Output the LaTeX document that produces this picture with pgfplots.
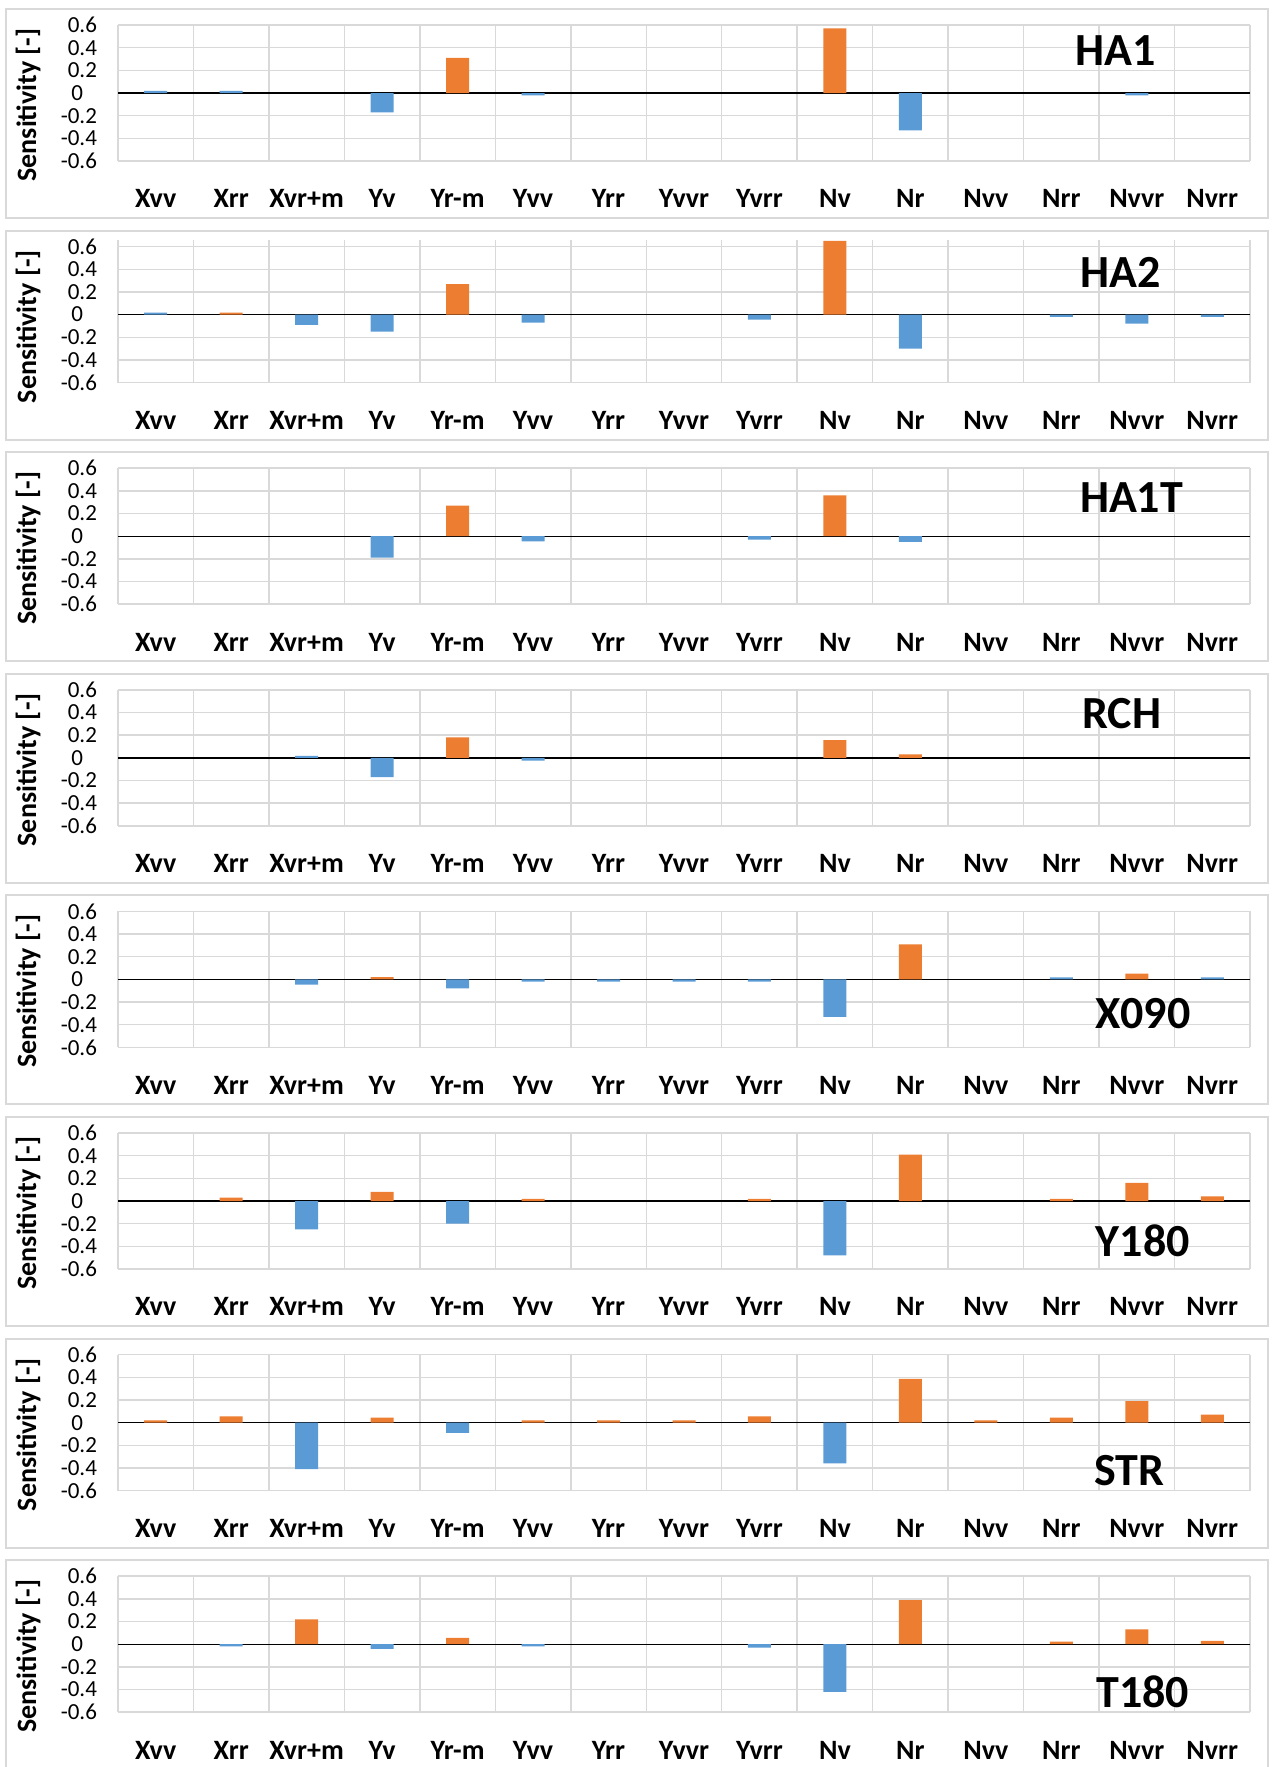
\documentclass[border=0pt]{standalone}
\usepackage{fontspec}
\setmainfont{Carlito}
\usepackage{pgfplots}
\usepackage{pgfplotstable}
\pgfplotsset{compat=1.18}

\definecolor{barorange}{HTML}{ED7D31}
\definecolor{barblue}{HTML}{5B9BD5}
\definecolor{gridgray}{HTML}{D9D9D9}

% one column pair per case: o = orange bars, b = blue bars
\pgfplotstableread{
i  HAoneo HAoneb HAtwoo HAtwob HATo HATb RCHo RCHb Xo    Xb     Yo   Yb    So    Sb    To    Tb
0  0      0.018  0      0.018  0    0    0    0     0     0      0    0     0.02  0     0     0
1  0      0.018  0.018  0      0    0    0    0     0     0      0.03 0     0.055 0     0     -0.018
2  0      0      0      -0.09  0    0    0    0.018 0     -0.045 0    -0.25 0     -0.41 0.22  0
3  0      -0.17  0      -0.15  0    -0.19 0   -0.17 0.02  0      0.08 0     0.045 0     0     -0.04
4  0.31   0      0.27   0      0.27 0    0.18 0     0     -0.08  0    -0.20 0     -0.09 0.055 0
5  0      -0.022 0      -0.07  0    -0.045 0  -0.025 0    -0.02  0.02 0     0.02  0     0     -0.018
6  0      0      0      0      0    0    0    0     0     -0.02  0    0     0.02  0     0     0
7  0      0      0      0      0    0    0    0     0     -0.02  0    0     0.02  0     0     0
8  0      0      0      -0.045 0    -0.03 0   0     0     -0.02  0.02 0     0.055 0     0     -0.03
9  0.57   0      0.65   0      0.36 0    0.155 0    0     -0.33  0    -0.48 0     -0.36 0     -0.42
10 0      -0.33  0      -0.30  0    -0.05 0.03 0    0.31  0      0.41 0     0.385 0     0.39  0
11 0      0      0      0      0    0    0    0     0     0      0    0     0.02  0     0     0
12 0      0      0      -0.02  0    0    0    0     0     0.018  0.02 0     0.044 0     0.022 0
13 0      -0.022 0      -0.08  0    0    0    0     0.05  0      0.16 0     0.19  0     0.13  0
14 0      0      0      -0.02  0    0    0    0     0     0.018  0.04 0     0.07  0     0.03  0
}\sens

\tikzset{casename/.style={font=\fontsize{23}{23}\selectfont\bfseries, anchor=center}}

\pgfplotsset{
  panel/.style={
    scale only axis,
    width=566pt, height=68pt,
    anchor=south west,
    xmin=-0.5, xmax=14.5,
    ymin=-0.6, ymax=0.6,
    axis line style={draw=none},
    major tick length=0pt, minor tick length=0pt,
    xtick={0,...,14},
    xticklabels={Xvv,Xrr,Xvr+m,Yv,Yr-m,Yvv,Yrr,Yvvr,Yvrr,Nv,Nr,Nvv,Nrr,Nvvr,Nvrr},
    xticklabel style={font=\fontsize{14}{14}\selectfont\bfseries, yshift=-10.8pt},
    minor xtick={-0.5,0.5,...,14.5},
    xminorgrids=true,
    minor x grid style={gridgray, line width=0.75pt},
    ytick={-0.6,-0.4,-0.2,0.2,0.4,0.6},
    yticklabels={-0.6,-0.4,-0.2,0.2,0.4,0.6},
    yticklabel style={font=\fontsize{11.5}{11.5}\selectfont, anchor=east, xshift=-7pt},
    ymajorgrids=true,
    major grid style={gridgray, line width=0.75pt},
    extra y ticks={0},
    extra y tick labels={0},
    extra y tick style={ymajorgrids=true, major grid style={black, line width=0.7pt},
      yticklabel style={font=\fontsize{11.5}{11.5}\selectfont, anchor=east, xshift=-7pt}},
    ylabel={Sensitivity [-]},
    ylabel style={font=\fontsize{14}{14}\selectfont\bfseries,
      at={(axis description cs:-0.0795,0.412)}, anchor=center},
    clip=true,
  },
  orangebar/.style={ybar, bar width=11.5pt, bar shift=0pt, fill=barorange, draw=none,
    y filter/.expression={y==0 ? nan : y}, unbounded coords=discard},
  bluebar/.style={ybar, bar width=11.5pt, bar shift=0pt, fill=barblue, draw=none,
    y filter/.expression={y==0 ? nan : y}, unbounded coords=discard},
}

\begin{document}
\begin{tikzpicture}
\path[use as bounding box] (0,0) rectangle (637pt,-883.5pt);
\foreach \k in {0,...,7}{
  \draw[gridgray, line width=1pt] (3pt,{-4.5pt-\k*110.8pt}) rectangle (634pt,{-109pt-\k*110.8pt});
}

\begin{axis}[panel, at={(59pt,-80.5pt)}]
\addplot[orangebar] table[x=i, y=HAoneo]{\sens};
\addplot[bluebar] table[x=i, y=HAoneb]{\sens};
\node[casename] at (axis cs:12.72,0.375) {HA1};
\end{axis}

\begin{axis}[panel, at={(59pt,-191.3pt)}, ymax=0.66, height=71.4pt,
  ylabel style={at={(axis description cs:-0.0795,0.392)}}]
\addplot[orangebar] table[x=i, y=HAtwoo]{\sens};
\addplot[bluebar] table[x=i, y=HAtwob]{\sens};
\node[casename] at (axis cs:12.78,0.37) {HA2};
\end{axis}

\begin{axis}[panel, at={(59pt,-302.1pt)}]
\addplot[orangebar] table[x=i, y=HATo]{\sens};
\addplot[bluebar] table[x=i, y=HATb]{\sens};
\node[casename] at (axis cs:12.93,0.34) {HA1T};
\end{axis}

\begin{axis}[panel, at={(59pt,-412.9pt)}]
\addplot[orangebar] table[x=i, y=RCHo]{\sens};
\addplot[bluebar] table[x=i, y=RCHb]{\sens};
\node[casename] at (axis cs:12.8,0.39) {RCH};
\end{axis}

\begin{axis}[panel, at={(59pt,-523.7pt)}]
\addplot[orangebar] table[x=i, y=Xo]{\sens};
\addplot[bluebar] table[x=i, y=Xb]{\sens};
\node[casename] at (axis cs:13.08,-0.30) {X090};
\end{axis}

\begin{axis}[panel, at={(59pt,-634.5pt)}]
\addplot[orangebar] table[x=i, y=Yo]{\sens};
\addplot[bluebar] table[x=i, y=Yb]{\sens};
\node[casename] at (axis cs:13.08,-0.35) {Y180};
\end{axis}

\begin{axis}[panel, at={(59pt,-745.3pt)}]
\addplot[orangebar] table[x=i, y=So]{\sens};
\addplot[bluebar] table[x=i, y=Sb]{\sens};
\node[casename] at (axis cs:12.9,-0.42) {STR};
\end{axis}

\begin{axis}[panel, at={(59pt,-856.1pt)}]
\addplot[orangebar] table[x=i, y=To]{\sens};
\addplot[bluebar] table[x=i, y=Tb]{\sens};
\node[casename] at (axis cs:13.08,-0.42) {T180};
\end{axis}
\end{tikzpicture}
\end{document}
